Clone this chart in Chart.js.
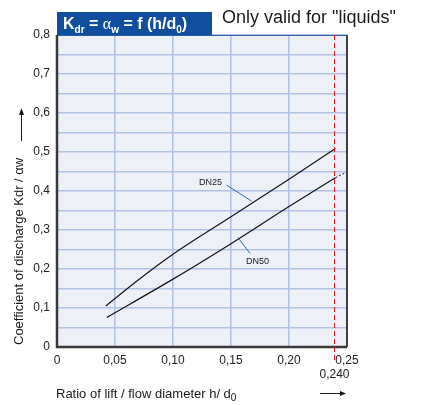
<!DOCTYPE html>
<html>
<head>
<meta charset="utf-8">
<script src="https://cdn.jsdelivr.net/npm/chart.js@4"></script>
<style>
    body { margin: 0; background: #ffffff; }
    #wrap { width: 438px; height: 405px; position: relative; }
</style>
</head>
<body>
<div id="wrap"><canvas id="chart_kdr" width="438" height="405"></canvas></div>
<script>
// valores
const dn25X = [0.042, 0.07, 0.10, 0.15, 0.20, 0.24];
const dn25Y = [0.105, 0.172, 0.238, 0.334, 0.430, 0.509];
const dn50X = [0.043, 0.10, 0.15, 0.20, 0.24];
const dn50Y = [0.076, 0.174, 0.265, 0.360, 0.434];
const dn50ExtX = [0.24, 0.248];
const dn50ExtY = [0.434, 0.446];

const xTickLabels = ['0', '0,05', '0,10', '0,15', '0,20', '0,25'];
const yTickLabels = ['0', '0,1', '0,2', '0,3', '0,4', '0,5', '0,6', '0,7', '0,8'];
const limiteX = 0.240;
const limiteLabel = '0,240';

// rotulos das curvas: [texto, x, y], linhas de chamada: [x1, y1, x2, y2]
const rotulos = [['DN25', 0.1323, 0.423], ['DN50', 0.1728, 0.219]];
const chamadas = [[0.1463, 0.415, 0.1678, 0.374], [0.1558, 0.281, 0.1664, 0.240]];

function pontos(xs, ys) {
    return xs.map((x, i) => ({ x: x, y: ys[i] }));
}

const fonte = '"Liberation Sans", Arial, sans-serif';

const desenhoExtra = {
    id: 'desenhoExtra',
    beforeDraw(chart) {
        const ctx = chart.ctx;
        const a = chart.chartArea;
        ctx.save();
        ctx.fillStyle = '#ffffff';
        ctx.fillRect(0, 0, chart.width, chart.height);
        ctx.fillStyle = '#eef0f8';
        ctx.fillRect(a.left, a.top, a.right - a.left, a.bottom - a.top);
        ctx.restore();
    },
    afterDraw(chart) {
        const ctx = chart.ctx;
        const a = chart.chartArea;
        const sx = chart.scales.x;
        const sy = chart.scales.y;
        ctx.save();

        // bordas
        ctx.strokeStyle = '#111111';
        ctx.lineWidth = 1.5;
        ctx.beginPath();
        ctx.moveTo(a.right, a.top);
        ctx.lineTo(a.right, a.bottom);
        ctx.stroke();
        ctx.strokeStyle = '#2b5ea8';
        ctx.lineWidth = 1;
        ctx.beginPath();
        ctx.moveTo(a.left, a.top + 0.5);
        ctx.lineTo(a.right, a.top + 0.5);
        ctx.stroke();
        ctx.strokeStyle = '#3a3a3a';
        ctx.lineWidth = 2.5;
        ctx.beginPath();
        ctx.moveTo(a.left, a.top);
        ctx.lineTo(a.left, a.bottom);
        ctx.lineTo(a.right, a.bottom);
        ctx.stroke();

        // limite 0,240
        const xl = Math.round(sx.getPixelForValue(limiteX)) - 0.5;
        ctx.strokeStyle = '#e0202a';
        ctx.lineWidth = 1;
        ctx.setLineDash([5, 3]);
        ctx.beginPath();
        ctx.moveTo(xl, a.top);
        ctx.lineTo(xl, a.bottom + 16);
        ctx.stroke();
        ctx.setLineDash([]);
        ctx.fillStyle = '#222222';
        ctx.font = '12px ' + fonte;
        ctx.textAlign = 'center';
        ctx.textBaseline = 'middle';
        ctx.fillText(limiteLabel, xl, a.bottom + 28);

        // rotulos DN
        ctx.font = '9px ' + fonte;
        ctx.fillStyle = '#222222';
        rotulos.forEach(r => {
            ctx.fillText(r[0], sx.getPixelForValue(r[1]), sy.getPixelForValue(r[2]));
        });
        ctx.strokeStyle = '#2a6cb8';
        ctx.lineWidth = 1;
        chamadas.forEach(c => {
            ctx.beginPath();
            ctx.moveTo(sx.getPixelForValue(c[0]), sy.getPixelForValue(c[1]));
            ctx.lineTo(sx.getPixelForValue(c[2]), sy.getPixelForValue(c[3]));
            ctx.stroke();
        });

        // caixa do titulo
        ctx.fillStyle = '#0f4f9e';
        ctx.fillRect(a.left, 12, 155, a.top - 12);
        ctx.fillStyle = '#ffffff';
        ctx.textAlign = 'left';
        ctx.textBaseline = 'alphabetic';
        let px = a.left + 6;
        const base = 29;
        const partes = [
            ['K', 'bold 16px ' + fonte, 0],
            ['dr', 'bold 10px ' + fonte, 4],
            [' = ', 'bold 16px ' + fonte, 0],
            ['\u03b1', '16px "Liberation Serif", serif', 0],
            ['w', 'bold 10px ' + fonte, 4],
            [' = f (h/d', 'bold 16px ' + fonte, 0],
            ['0', 'bold 10px ' + fonte, 4],
            [')', 'bold 16px ' + fonte, 0]
        ];
        partes.forEach(p => {
            ctx.font = p[1];
            ctx.fillText(p[0], px, base + p[2]);
            px += ctx.measureText(p[0]).width;
        });

        // aviso
        ctx.fillStyle = '#1a1a1a';
        ctx.font = '18px ' + fonte;
        ctx.fillText('Only valid for "liquids"', 222, 23);

        // titulo eixo x
        ctx.font = '13px ' + fonte;
        ctx.fillStyle = '#1a1a1a';
        let tx = 56;
        const t1 = 'Ratio of lift / flow diameter h/ d';
        ctx.fillText(t1, tx, 398);
        tx += ctx.measureText(t1).width;
        ctx.font = '10px ' + fonte;
        ctx.fillText('0', tx, 401);
        ctx.strokeStyle = '#1a1a1a';
        ctx.lineWidth = 1;
        ctx.beginPath();
        ctx.moveTo(320, 393.5);
        ctx.lineTo(342, 393.5);
        ctx.stroke();
        ctx.beginPath();
        ctx.moveTo(346, 393.5);
        ctx.lineTo(340, 391);
        ctx.lineTo(340, 396);
        ctx.closePath();
        ctx.fill();

        // titulo eixo y
        ctx.save();
        ctx.translate(19, 345);
        ctx.rotate(-Math.PI / 2);
        ctx.font = '13px ' + fonte;
        ctx.textBaseline = 'middle';
        ctx.fillText('Coefficient of discharge Kdr / \u03b1w', 0, 0);
        ctx.restore();
        ctx.beginPath();
        ctx.moveTo(21.5, 141);
        ctx.lineTo(21.5, 113);
        ctx.stroke();
        ctx.beginPath();
        ctx.moveTo(21.5, 108);
        ctx.lineTo(19, 115);
        ctx.lineTo(24, 115);
        ctx.closePath();
        ctx.fill();

        ctx.restore();
    }
};

const ctxKdr = document.getElementById('chart_kdr');

new Chart(ctxKdr, {
    type: 'scatter',
    data: {
        datasets: [{
            label: 'DN25',
            data: pontos(dn25X, dn25Y),
            showLine: true,
            borderColor: '#151515',
            borderWidth: 1.2,
            pointRadius: 0,
            cubicInterpolationMode: 'monotone'
        }, {
            label: 'DN50',
            data: pontos(dn50X, dn50Y),
            showLine: true,
            borderColor: '#151515',
            borderWidth: 1.2,
            pointRadius: 0,
            cubicInterpolationMode: 'monotone'
        }, {
            label: 'DN50 ext',
            data: pontos(dn50ExtX, dn50ExtY),
            showLine: true,
            borderColor: '#151515',
            borderWidth: 1,
            borderDash: [2, 2],
            pointRadius: 0
        }]
    },
    options: {
        responsive: false,
        animation: false,
        layout: {
            padding: { left: 0, top: 35, right: 91, bottom: 0 }
        },
        scales: {
            x: {
                type: 'linear',
                min: 0,
                max: 0.25,
                afterFit: s => { s.height = 58; },
                ticks: {
                    stepSize: 0.05,
                    autoSkip: false,
                    maxRotation: 0,
                    padding: 6,
                    color: '#222222',
                    font: { size: 12, family: fonte },
                    callback: (v, i) => xTickLabels[i]
                },
                grid: {
                    color: '#b3c1e6',
                    lineWidth: 1.6,
                    drawTicks: false
                },
                border: { display: false }
            },
            y: {
                min: 0,
                max: 0.8,
                afterFit: s => { s.width = 57; },
                ticks: {
                    stepSize: 0.05,
                    autoSkip: false,
                    padding: 7,
                    color: '#222222',
                    font: { size: 12, family: fonte },
                    callback: (v, i) => (i % 2 === 0 ? yTickLabels[i / 2] : '')
                },
                grid: {
                    color: '#b3c1e6',
                    lineWidth: 1.4,
                    drawTicks: false
                },
                border: { display: false }
            }
        },
        plugins: {
            legend: { display: false },
            tooltip: { enabled: false }
        }
    },
    plugins: [desenhoExtra]
});
</script>
</body>
</html>
